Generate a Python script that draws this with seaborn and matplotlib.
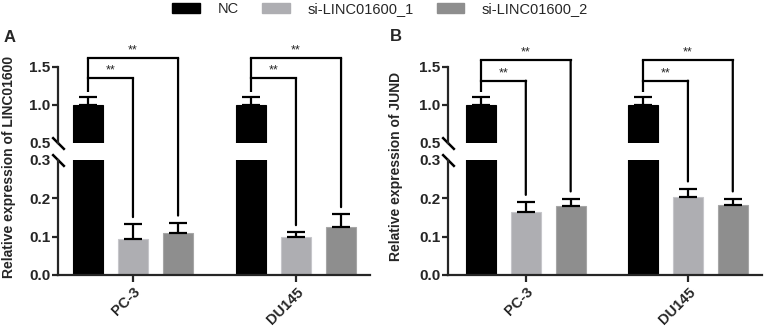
import matplotlib
matplotlib.use("Agg")
import numpy as np
import pandas as pd
import seaborn as sns
import matplotlib.pyplot as plt
from matplotlib.patches import Patch, ConnectionPatch
from matplotlib.container import BarContainer
from matplotlib.ticker import FormatStrFormatter

sns.set_style("ticks")
plt.rcParams['font.family'] = ['Liberation Sans', 'DejaVu Sans']

cells = ["PC-3", "DU145"]
groups = ["NC", "si-LINC01600_1", "si-LINC01600_2"]
colors = ["#000000", "#AEAEB2", "#8E8E8E"]
edges = ["#000000", "#C6C6CA", "#A6A6A6"]

# mean and upper SD, one list per group (PC-3, DU145)
linc_nc = [1.0, 1.0]
linc_si1 = [0.095, 0.099]
linc_si2 = [0.110, 0.125]
linc_nc_err = [0.10, 0.10]
linc_si1_err = [0.037, 0.012]
linc_si2_err = [0.026, 0.033]

jund_nc = [1.0, 1.0]
jund_si1 = [0.165, 0.204]
jund_si2 = [0.179, 0.182]
jund_nc_err = [0.10, 0.10]
jund_si1_err = [0.025, 0.021]
jund_si2_err = [0.020, 0.017]

stars = "**"


def make_df(nc, si1, si2):
    rows = []
    for g, vals in zip(groups, [nc, si1, si2]):
        for c, v in zip(cells, vals):
            rows.append({"cell": c, "group": g, "value": v})
    return pd.DataFrame(rows)


def bar_containers(ax):
    return [c for c in ax.containers if isinstance(c, BarContainer)]


def draw_panel(fig, left, width, xlim, means, errs, ylabel, letter, lab_x, lab_y,
               inner_h, outer_h):
    ax_b = fig.add_axes([left, 0.1667, width, 0.3485])
    ax_t = fig.add_axes([left, 0.5667, width, 0.2303])
    df = make_df(*means)
    for ax in (ax_b, ax_t):
        sns.barplot(data=df, x="cell", y="value", hue="group", palette=colors,
                    hue_order=groups, order=cells, width=0.83, gap=0.33,
                    errorbar=None, legend=False, saturation=1, ax=ax)
        for i, cont in enumerate(bar_containers(ax)):
            for j, bar in enumerate(cont):
                bar.set_edgecolor(edges[i])
                bar.set_linewidth(0.8)
                xc = bar.get_x() + bar.get_width() / 2
                ax.errorbar(xc, bar.get_height(), yerr=[[0], [errs[i][j]]],
                            fmt='none', ecolor='black', elinewidth=1.6,
                            capsize=6.5, capthick=1.6, zorder=3)
        ax.set_xlim(*xlim)
        ax.set_xlabel("")
        ax.set_ylabel("")
        sns.despine(ax=ax)
        ax.spines['left'].set_linewidth(1.6)
        ax.spines['bottom'].set_linewidth(1.6)
        ax.tick_params(axis='y', length=4, width=1.6, labelsize=11, pad=1.5)
        ax.yaxis.set_major_formatter(FormatStrFormatter('%.1f'))

    ax_t.set_ylim(0.5, 1.5)
    ax_t.set_yticks([0.5, 1.0, 1.5])
    ax_t.spines['bottom'].set_visible(False)
    ax_t.tick_params(axis='x', bottom=False, labelbottom=False)
    ax_t.yaxis.get_major_ticks()[0].tick1line.set_visible(False)

    ax_b.set_ylim(0, 0.3)
    ax_b.set_yticks([0.0, 0.1, 0.2, 0.3])
    ax_b.yaxis.get_major_ticks()[-1].tick1line.set_visible(False)
    ax_b.tick_params(axis='x', length=5, width=1.6, pad=2)
    ax_b.set_xticks(range(len(cells)))
    ax_b.set_xticklabels(cells, rotation=45, ha='right', rotation_mode='anchor',
                         fontsize=10.5, fontweight='bold')
    for ax in (ax_b, ax_t):
        for t in ax.get_yticklabels():
            t.set_fontweight('bold')

    # break marks
    kw = dict(marker=[(-1, 1), (1, -1)], markersize=9, linestyle='none',
              color='k', mec='k', mew=1.8, clip_on=False)
    ax_t.plot([0], [0], transform=ax_t.transAxes, **kw)
    ax_b.plot([0], [1], transform=ax_b.transAxes, **kw)

    # significance brackets
    conts = bar_containers(ax_b)
    for j in range(len(cells)):
        xs = []
        tops = []
        for i, cont in enumerate(conts):
            bar = cont[j]
            xs.append(bar.get_x() + bar.get_width() / 2)
            tops.append(means[i][j] + errs[i][j])
        ax_t.plot([xs[0], xs[0]], [tops[0] + 0.075, outer_h], color='k',
                  lw=1.6, clip_on=False, solid_capstyle='butt')
        for k, h in zip([1, 2], [inner_h, outer_h]):
            ax_t.plot([xs[0], xs[k]], [h, h], color='k', lw=1.6,
                      clip_on=False, solid_capstyle='projecting')
            con = ConnectionPatch(xyA=(xs[k], h), coordsA=ax_t.transData,
                                  xyB=(xs[k], tops[k] + 0.019),
                                  coordsB=ax_b.transData, color='k', lw=1.6)
            fig.add_artist(con)
            ax_t.text((xs[0] + xs[k]) / 2, h + 0.02, stars, ha='center',
                      va='bottom', fontsize=9)

    fig.text(lab_x, 0.495, ylabel, rotation=90, ha='center', va='center',
             fontsize=10, fontweight='bold')
    fig.text(lab_x, lab_y, letter, ha='center', va='center', fontsize=12,
             fontweight='bold')


fig = plt.figure(figsize=(7.65, 3.3), dpi=100)

draw_panel(fig, 0.0758, 0.4078, (-0.46, 1.454),
           [linc_nc, linc_si1, linc_si2],
           [linc_nc_err, linc_si1_err, linc_si2_err],
           "Relative expression of LINC01600", "A", 0.012, 0.886, 1.35, 1.615)
draw_panel(fig, 0.5856, 0.4105, (-0.48, 1.457),
           [jund_nc, jund_si1, jund_si2],
           [jund_nc_err, jund_si1_err, jund_si2_err],
           "Relative expression of JUND", "B", 0.518, 0.888, 1.32, 1.59)

handles = [Patch(facecolor=c, edgecolor=c) for c in colors]
fig.legend(handles, groups, loc='center', bbox_to_anchor=(0.497, 0.972),
           ncol=3, frameon=False, fontsize=10.5, handlelength=1.9,
           handleheight=0.75, handletextpad=1.2, columnspacing=1.6)

fig.savefig("out.png", dpi=100)
